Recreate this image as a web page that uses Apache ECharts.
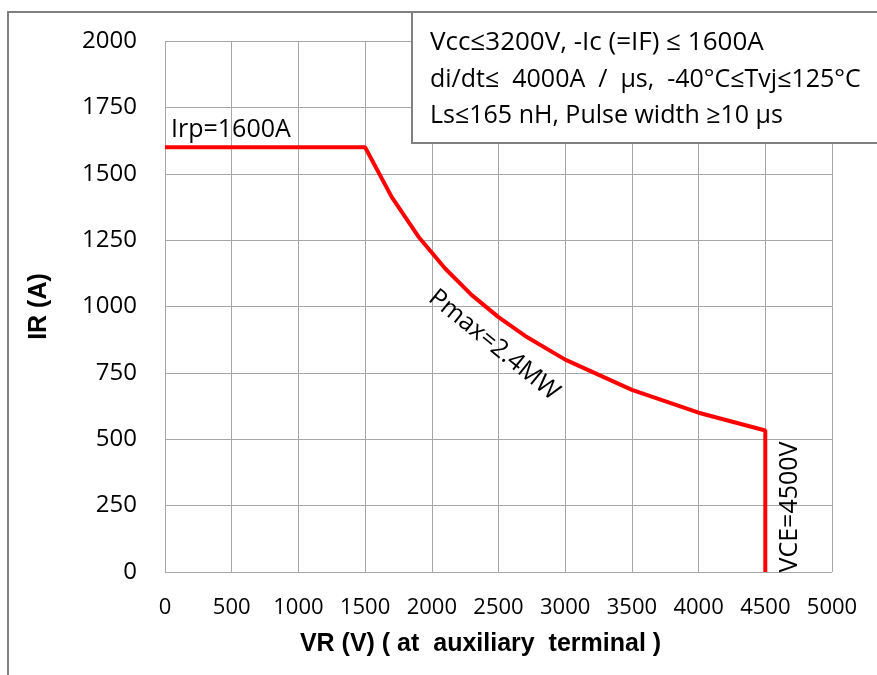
<!DOCTYPE html>
<html><head><meta charset="utf-8">
<script src="https://cdn.jsdelivr.net/npm/echarts@6/dist/echarts.min.js"></script>
<style>html,body{margin:0;padding:0;background:#fff}#c{width:877px;height:675px}</style>
</head><body><div id="c"></div>
<script>
const vrValues = [0, 1500, 1700, 1900, 2100, 2300, 2500, 2700, 3000, 3500, 4000, 4500, 4500];
const irValues = [1600, 1600, 1412, 1263, 1143, 1043, 960, 889, 800, 686, 600, 533, 0];
const xTicks = [0, 500, 1000, 1500, 2000, 2500, 3000, 3500, 4000, 4500, 5000];
const yTicks = [0, 250, 500, 750, 1000, 1250, 1500, 1750, 2000];
const infoLines = ['Vcc≤3200V, -Ic (=IF) ≤ 1600A', 'di/dt≤  4000A  /  μs,  -40°C≤Tvj≤125°C', 'Ls≤165 nH, Pulse width ≥10 μs'];

const chart = echarts.init(document.getElementById('c'));
const font = '"Open Sans", "Noto Sans", sans-serif';
const grid = {left: 165, right: 45, top: 41, bottom: 103};
chart.setOption({
  animation: false,
  grid: grid,
  xAxis: {
    type: 'value', min: 0, max: 5000, interval: 500,
    name: 'VR (V) ( at  auxiliary  terminal )', nameLocation: 'middle', nameGap: 60,
    nameTextStyle: {fontFamily: 'Liberation Sans, Arial', fontWeight: 'bold', fontSize: 25, color: '#000', padding: [0, 36, 0, 0]},
    axisLine: {show: false}, axisTick: {show: false},
    axisLabel: {margin: 25, fontSize: 22, color: '#000', fontFamily: font, showMinLabel: true, showMaxLabel: true,
      formatter: v => String(v)},
    splitLine: {show: true, lineStyle: {color: '#a6a6a6', width: 1}}
  },
  yAxis: {
    type: 'value', min: 0, max: 2000, interval: 250,
    name: 'IR (A)', nameLocation: 'middle', nameGap: 113, nameRotate: 90,
    nameTextStyle: {fontFamily: 'Liberation Sans, Arial', fontWeight: 'bold', fontSize: 25, color: '#000'},
    axisLine: {show: false}, axisTick: {show: false},
    axisLabel: {margin: 28, fontSize: 24, color: '#000', fontFamily: font, formatter: v => String(v)},
    splitLine: {show: true, lineStyle: {color: '#a6a6a6', width: 1}}
  },
  series: [{
    type: 'line', data: vrValues.map((v, i) => [v, irValues[i]]),
    showSymbol: false, symbol: 'none',
    lineStyle: {color: '#ff0000', width: 4}, z: 5
  }],
  graphic: [
    {type: 'rect', shape: {x: 8, y: 12, width: 900, height: 700}, style: {fill: 'none', stroke: '#808080', lineWidth: 2}, z: -1},
    {type: 'rect', shape: {x: 412, y: 12, width: 480, height: 131}, style: {fill: '#fff', stroke: '#808080', lineWidth: 2}, z: 10},
    {type: 'text', x: 430, y: 43, style: {text: infoLines[0], font: '26px ' + font, fill: '#000', textVerticalAlign: 'middle'}, z: 11},
    {type: 'text', x: 430, y: 80, style: {text: infoLines[1], font: '25px ' + font, fill: '#000', textVerticalAlign: 'middle'}, z: 11},
    {type: 'text', x: 430, y: 116, style: {text: infoLines[2], font: '25px ' + font, fill: '#000', textVerticalAlign: 'middle'}, z: 11},
    {type: 'text', x: 171, y: 130, style: {text: 'Irp=1600A', font: '25px ' + font, fill: '#000', textVerticalAlign: 'middle'}, z: 11},
    {type: 'text', x: 494, y: 345, rotation: -0.68, style: {text: 'Pmax=2.4MW', font: '25px ' + font, fill: '#000', textAlign: 'center', textVerticalAlign: 'middle'}, z: 11},
    {type: 'text', x: 790, y: 507, rotation: Math.PI / 2, style: {text: 'VCE=4500V', font: '25px ' + font, fill: '#000', textAlign: 'center', textVerticalAlign: 'middle'}, z: 11}
  ]
});
</script></body></html>
